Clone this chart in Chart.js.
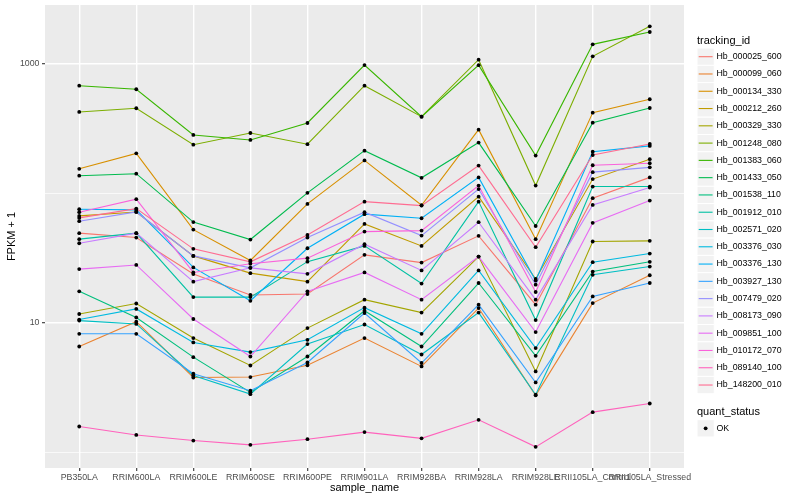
<!DOCTYPE html>
<html>
<head>
<meta charset="utf-8">
<script src="https://cdn.jsdelivr.net/npm/chart.js@4.4.0/dist/chart.umd.min.js"></script>
<style>
  html, body { margin: 0; padding: 0; background: #fff; }
  #wrap { width: 800px; height: 500px; }
</style>
</head>
<body>
<div id="wrap"><canvas id="fpkmChart" width="800" height="500"></canvas></div>
<script>
// samples along the x axis
const sampleNames = ['PB350LA', 'RRIM600LA', 'RRIM600LE', 'RRIM600SE', 'RRIM600PE', 'RRIM901LA',
  'RRIM928BA', 'RRIM928LA', 'RRIM928LE', 'RRII105LA_Control', 'RRII105LA_Stressed'];

// FPKM + 1 for each transcript, one value per sample
const hb_000025_600 = [49.3, 45.6, 23.8, 16.4, 16.7, 33.5, 29.2, 47.0, 13.8, 91.8, 133];
const hb_000099_060 = [6.56, 10.2, 3.78, 3.81, 4.70, 7.62, 4.60, 13.0, 2.75, 14.2, 23.3];
const hb_000134_330 = [155, 204, 52.5, 30.3, 83, 180, 81, 311, 44.3, 421, 534];
const hb_000212_260 = [67.0, 71.9, 32.9, 24.2, 20.8, 58.1, 39.3, 94.4, 21.8, 129, 184];
const hb_000329_330 = [11.7, 14.1, 7.62, 4.68, 9.10, 15.1, 12.0, 32.5, 4.21, 42.5, 43.0];
const hb_001248_080 = [426, 455, 238, 293, 240, 680, 392, 1080, 115, 1146, 1955];
const hb_001383_060 = [680, 638, 283, 259, 350, 982, 392, 980, 196, 1419, 1767];
const hb_001433_050 = [137, 142, 60, 44, 101, 214, 132, 247, 56, 352, 457];
const hb_001538_110 = [17.5, 11.0, 5.43, 2.90, 5.49, 12.4, 6.56, 20.3, 5.56, 24.9, 29.6];
const hb_001912_010 = [44.3, 49.3, 15.8, 15.8, 29.7, 39.3, 20.1, 86.4, 10.5, 113, 113];
const hb_002571_020 = [10.4, 9.8, 3.92, 2.81, 6.85, 9.7, 5.69, 12.0, 2.78, 23.5, 27.2];
const hb_003376_030 = [10.6, 12.8, 7.05, 5.94, 7.39, 13.1, 8.22, 25.4, 6.38, 29.4, 34.3];
const hb_003376_130 = [75.5, 74.6, 26.8, 14.8, 37.7, 69.1, 64.3, 133, 21.2, 210, 233];
const hb_003927_130 = [8.22, 8.22, 4.04, 2.99, 4.94, 11.9, 4.89, 13.8, 3.46, 16.0, 20.3];
const hb_007479_020 = [61.0, 71.9, 32.9, 26.6, 45.6, 71.6, 47.2, 108, 19.7, 146, 159];
const hb_008173_090 = [41.2, 49.3, 20.8, 26.6, 23.9, 40.5, 25.4, 59.9, 15.1, 81.5, 111];
const hb_009851_100 = [26.0, 28.0, 10.7, 5.49, 17.5, 24.5, 15.1, 32.5, 8.48, 59.2, 88.0];
const hb_010172_070 = [71.6, 90.2, 24.5, 28.6, 31.6, 50.7, 51.6, 115, 17.3, 165, 171];
const hb_089140_100 = [1.58, 1.36, 1.23, 1.14, 1.26, 1.43, 1.28, 1.78, 1.10, 2.04, 2.38];
const hb_148200_010 = [64.7, 76.3, 37.3, 29.6, 47.8, 86.4, 80.5, 164, 38.4, 198, 241];

const trackingIds = ['Hb_000025_600', 'Hb_000099_060', 'Hb_000134_330', 'Hb_000212_260', 'Hb_000329_330',
  'Hb_001248_080', 'Hb_001383_060', 'Hb_001433_050', 'Hb_001538_110', 'Hb_001912_010',
  'Hb_002571_020', 'Hb_003376_030', 'Hb_003376_130', 'Hb_003927_130', 'Hb_007479_020',
  'Hb_008173_090', 'Hb_009851_100', 'Hb_010172_070', 'Hb_089140_100', 'Hb_148200_010'];
const seriesValues = [hb_000025_600, hb_000099_060, hb_000134_330, hb_000212_260, hb_000329_330,
  hb_001248_080, hb_001383_060, hb_001433_050, hb_001538_110, hb_001912_010,
  hb_002571_020, hb_003376_030, hb_003376_130, hb_003927_130, hb_007479_020,
  hb_008173_090, hb_009851_100, hb_010172_070, hb_089140_100, hb_148200_010];
const seriesColors = ['#F8766D', '#EA8331', '#D89000', '#C09B00', '#A3A500', '#7CAE00', '#39B600',
  '#00BB4E', '#00BF7D', '#00C1A3', '#00BFC4', '#00BAE0', '#00B0F6', '#35A2FF', '#9590FF',
  '#C77CFF', '#E76BF3', '#FA62DB', '#FF62BC', '#FF6C91'];
const quantStatus = ['OK'];

// log axis breaks
const majorBreaks = [10, 1000];
const minorBreaks = [1, 100];

const FONT = "'Liberation Sans', Arial, Helvetica, sans-serif";

// grey panel behind the grid
const panelBg = {
  id: 'panelBg',
  beforeDraw(chart) {
    const { ctx, chartArea: a } = chart;
    ctx.save();
    ctx.fillStyle = '#EBEBEB';
    ctx.fillRect(a.left, a.top, a.right - a.left, a.bottom - a.top);
    ctx.restore();
  }
};

// ggplot style legends on the right
const ggLegend = {
  id: 'ggLegend',
  afterDraw(chart) {
    const ctx = chart.ctx;
    const x0 = 697, key = 17.28;
    ctx.save();
    ctx.textBaseline = 'middle';
    ctx.textAlign = 'left';
    ctx.fillStyle = '#000';
    ctx.font = '11px ' + FONT;
    ctx.fillText('tracking_id', x0, 40.7);

    const drawKey = (cy) => {
      ctx.fillStyle = '#F2F2F2';
      ctx.fillRect(x0, cy - key / 2, key, key);
      ctx.strokeStyle = '#fff';
      ctx.lineWidth = 1;
      ctx.strokeRect(x0, cy - key / 2, key, key);
    };

    trackingIds.forEach((id, i) => {
      const cy = 56.7 + i * key;
      drawKey(cy);
      ctx.strokeStyle = seriesColors[i];
      ctx.lineWidth = 1.1;
      ctx.beginPath();
      ctx.moveTo(x0 + 1.7, cy);
      ctx.lineTo(x0 + key - 1.7, cy);
      ctx.stroke();
      ctx.fillStyle = '#000';
      ctx.font = '8.8px ' + FONT;
      ctx.fillText(id, x0 + 19.5, cy);
    });

    ctx.font = '11px ' + FONT;
    ctx.fillStyle = '#000';
    ctx.fillText('quant_status', x0, 412);
    quantStatus.forEach((s, i) => {
      const cy = 428.3 + i * key;
      drawKey(cy);
      ctx.fillStyle = '#000';
      ctx.beginPath();
      ctx.arc(x0 + key / 2, cy, 1.9, 0, Math.PI * 2);
      ctx.fill();
      ctx.font = '8.8px ' + FONT;
      ctx.fillText(s, x0 + 19.5, cy);
    });
    ctx.restore();
  }
};

const lineSets = seriesValues.map((vals, i) => ({
  label: trackingIds[i],
  data: vals.map((v, j) => ({ x: j + 1, y: v })),
  borderColor: seriesColors[i],
  borderWidth: 1.1,
  pointRadius: 0,
  fill: false,
  tension: 0,
  order: 100 - i
}));

const pointSet = {
  label: 'quant_status',
  data: seriesValues.flatMap(vals => vals.map((v, j) => ({ x: j + 1, y: v }))),
  showLine: false,
  pointRadius: 1.9,
  pointBackgroundColor: '#000',
  pointBorderWidth: 0,
  order: 0
};

const ctx = document.getElementById('fpkmChart').getContext('2d');
const fpkmChart = new Chart(ctx, {
  type: 'line',
  data: { datasets: [pointSet, ...lineSets] },
  options: {
    responsive: false,
    animation: false,
    events: [],
    layout: { padding: { top: 5, right: 116, bottom: 0, left: 0 } },
    plugins: { legend: { display: false }, tooltip: { enabled: false } },
    scales: {
      x: {
        type: 'linear',
        min: 0.4,
        max: 11.6,
        bounds: 'data',
        afterBuildTicks: s => { s.ticks = sampleNames.map((_, i) => ({ value: i + 1 })); },
        afterFit: s => { s.height = 32; s.paddingLeft = 0; s.paddingRight = 0; },
        ticks: {
          autoSkip: false,
          maxRotation: 0,
          minRotation: 0,
          padding: 1,
          color: '#4D4D4D',
          font: { family: FONT, size: 8.8 },
          callback: v => sampleNames[v - 1] || ''
        },
        grid: { color: '#fff', lineWidth: 1.4, tickColor: '#333', tickLength: 3, tickWidth: 1.1 },
        border: { display: false },
        title: {
          display: true, text: 'sample_name', color: '#000',
          font: { family: FONT, size: 11 }, padding: { top: 0, bottom: 5.4 }
        }
      },
      y: {
        type: 'logarithmic',
        min: 0.755,
        max: 2858,
        bounds: 'data',
        afterBuildTicks: s => {
          s.ticks = [...minorBreaks, ...majorBreaks].sort((a, b) => a - b).map(v => ({ value: v }));
        },
        afterFit: s => { s.width = 45; s.paddingTop = 0; s.paddingBottom = 0; },
        ticks: {
          padding: 2.5,
          color: '#4D4D4D',
          font: { family: FONT, size: 8.8 },
          callback: v => majorBreaks.includes(v) ? String(v) : ''
        },
        grid: {
          color: '#fff',
          lineWidth: c => majorBreaks.includes(c.tick && c.tick.value) ? 1.4 : 0.7,
          tickColor: c => majorBreaks.includes(c.tick && c.tick.value) ? '#333' : 'rgba(0,0,0,0)',
          tickLength: 3,
          tickWidth: 1.1
        },
        border: { display: false },
        title: {
          display: true, text: 'FPKM + 1', color: '#000',
          font: { family: FONT, size: 11 }, padding: { top: 5.4, bottom: 0 }
        }
      }
    }
  },
  plugins: [panelBg, ggLegend]
});
</script>
</body>
</html>
